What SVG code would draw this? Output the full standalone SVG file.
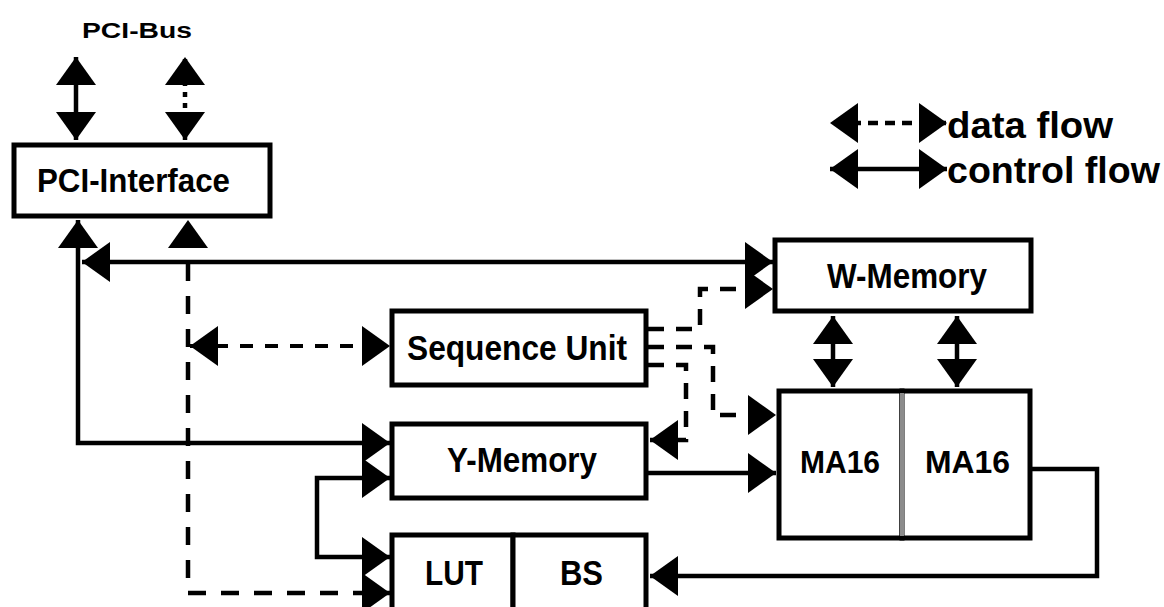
<svg xmlns="http://www.w3.org/2000/svg" width="1164" height="607" viewBox="0 0 1164 607">
<style>
.box{fill:#fff;stroke:#000;stroke-width:5}
.lbl{font-family:"Liberation Sans",Arial,sans-serif;font-weight:bold;fill:#000}
.ln{fill:none;stroke:#000;stroke-width:4.5}
.dash{stroke-dasharray:16 12}
</style>
<defs>
<marker id="ah" viewBox="0 0 28 40" refX="28" refY="20" markerWidth="28" markerHeight="40" markerUnits="userSpaceOnUse" orient="auto-start-reverse">
<path d="M0,0 L28,20 L0,40 Z" fill="#000"/>
</marker>
</defs>
<rect width="1164" height="607" fill="#fff"/>

<g id="connectors">
<!-- PCI-Bus -->
<line class="ln" x1="76" y1="57" x2="76" y2="140" marker-start="url(#ah)" marker-end="url(#ah)"/>
<line class="ln" x1="185" y1="57" x2="185" y2="140" style="stroke-dasharray:5 6;stroke-dashoffset:-2" marker-start="url(#ah)" marker-end="url(#ah)"/>
<!-- PCI-Interface control to Y-Memory -->
<polyline class="ln" points="78,220 78,443 390,443" marker-start="url(#ah)" marker-end="url(#ah)"/>
<!-- control to W-Memory -->
<line class="ln" x1="82" y1="262" x2="773" y2="262" marker-start="url(#ah)" marker-end="url(#ah)"/>
<!-- PCI-Interface data to LUT -->
<polyline class="ln" points="188,220 188,593 390,593" style="stroke-dasharray:18 15;stroke-dashoffset:-10" marker-start="url(#ah)" marker-end="url(#ah)"/>
<!-- Sequence unit data bus -->
<line class="ln" x1="190" y1="346" x2="390" y2="346" style="stroke-dasharray:13 12;stroke-width:4" marker-start="url(#ah)" marker-end="url(#ah)"/>
<!-- Y-Memory / LUT loop -->
<polyline class="ln" points="390,478 317,478 317,557 390,557" marker-start="url(#ah)" marker-end="url(#ah)"/>
<!-- Y-Memory to MA16 -->
<line class="ln" x1="648" y1="473" x2="776" y2="473" marker-end="url(#ah)"/>
<!-- MA16 feedback to BS -->
<polyline class="ln" points="1032,469 1097,469 1097,576 650,576" marker-end="url(#ah)"/>
<!-- W-Memory to MA16 -->
<line class="ln" x1="833" y1="316" x2="833" y2="387" marker-start="url(#ah)" marker-end="url(#ah)"/>
<line class="ln" x1="957" y1="316" x2="957" y2="387" marker-start="url(#ah)" marker-end="url(#ah)"/>
<!-- Sequence Unit outputs -->
<polyline class="ln dash" points="648,329 700,329 700,289 773,289" marker-end="url(#ah)"/>
<polyline class="ln dash" points="648,347 713,347 713,415 776,415" marker-end="url(#ah)"/>
<polyline class="ln dash" points="648,365 686,365 686,440 650,440" marker-end="url(#ah)"/>
<!-- legend -->
<line class="ln" x1="830" y1="123" x2="947" y2="123" style="stroke-dasharray:10 7;stroke-dashoffset:-4" marker-start="url(#ah)" marker-end="url(#ah)"/>
<line class="ln" x1="830" y1="169" x2="947" y2="169" marker-start="url(#ah)" marker-end="url(#ah)"/>
</g>

<g id="pci-bus-label">
<text class="lbl" x="82" y="38" font-size="22" textLength="110" lengthAdjust="spacingAndGlyphs">PCI-Bus</text>
</g>

<g id="pci-interface">
<rect class="box" x="14" y="145" width="256" height="71"/>
<text class="lbl" x="37" y="192" font-size="34" textLength="193" lengthAdjust="spacingAndGlyphs">PCI-Interface</text>
</g>

<g id="w-memory">
<rect class="box" x="775" y="240" width="256" height="71"/>
<text class="lbl" x="827" y="288" font-size="35" textLength="160" lengthAdjust="spacingAndGlyphs">W-Memory</text>
</g>

<g id="sequence-unit">
<rect class="box" x="392" y="311" width="254" height="74"/>
<text class="lbl" x="407" y="360" font-size="35" textLength="220" lengthAdjust="spacingAndGlyphs">Sequence Unit</text>
</g>

<g id="y-memory">
<rect class="box" x="392" y="424" width="254" height="74"/>
<text class="lbl" x="447" y="472" font-size="35" textLength="150" lengthAdjust="spacingAndGlyphs">Y-Memory</text>
</g>

<g id="lut">
<rect class="box" x="392" y="535" width="121" height="85"/>
<text class="lbl" x="425" y="585" font-size="35" textLength="58" lengthAdjust="spacingAndGlyphs">LUT</text>
</g>

<g id="bs">
<rect class="box" x="513" y="535" width="133" height="85"/>
<text class="lbl" x="560" y="585" font-size="35" textLength="43" lengthAdjust="spacingAndGlyphs">BS</text>
</g>

<g id="ma16-a">
<rect class="box" x="779" y="391" width="123" height="147"/>
<text class="lbl" x="800" y="473" font-size="32" textLength="80" lengthAdjust="spacingAndGlyphs">MA16</text>
</g>

<g id="ma16-b">
<rect class="box" x="902" y="391" width="128" height="147"/>
<line x1="902" y1="393" x2="902" y2="536" stroke="#8c8c8c" stroke-width="4"/>
<text class="lbl" x="925" y="473" font-size="32" textLength="85" lengthAdjust="spacingAndGlyphs">MA16</text>
</g>

<g id="legend">
<text class="lbl" x="947" y="138" font-size="36" textLength="166" lengthAdjust="spacingAndGlyphs">data flow</text>
<text class="lbl" x="947" y="183" font-size="36" textLength="213" lengthAdjust="spacingAndGlyphs">control flow</text>
</g>
</svg>
